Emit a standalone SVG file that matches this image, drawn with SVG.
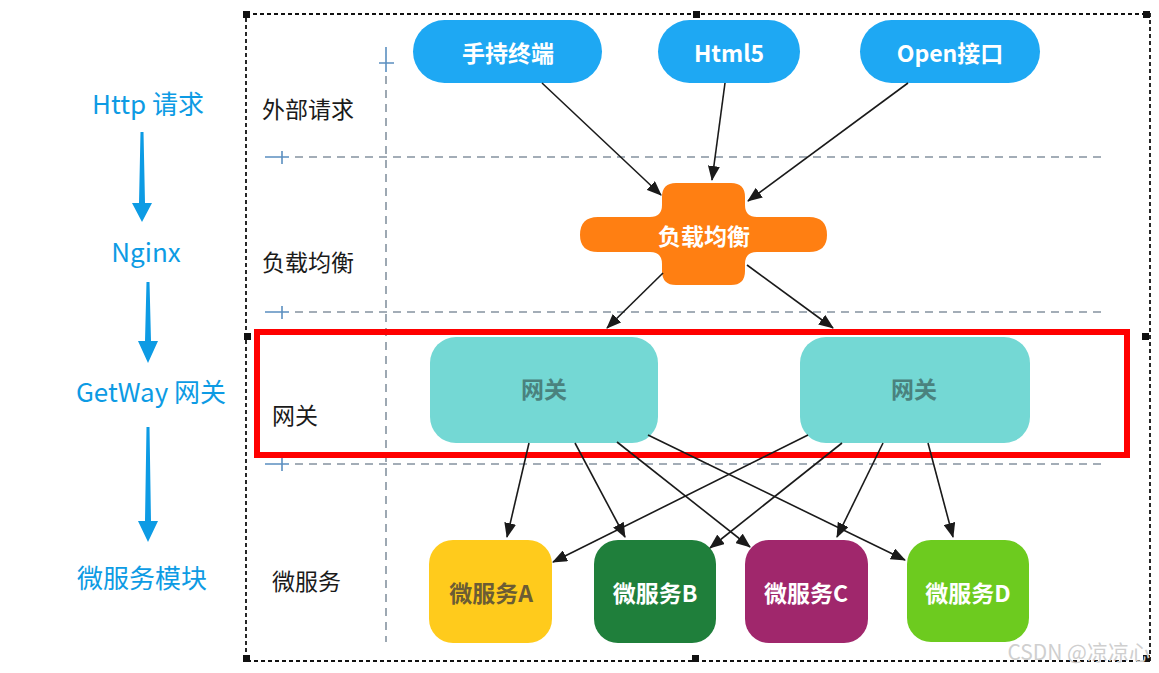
<svg xmlns="http://www.w3.org/2000/svg" width="1159" height="673" viewBox="0 0 1159 673">
<defs>
<marker id="ah" markerUnits="userSpaceOnUse" markerWidth="15" markerHeight="12" refX="14" refY="6" orient="auto">
<path d="M0,0 L15,6 L0,12 Z" fill="#1a1a1a"/>
</marker>
<style>
.lane{font-family:"Noto Sans CJK SC","Noto Sans",sans-serif;font-size:23px;font-weight:normal;fill:#1a1a1a;text-anchor:start}
.side{font-family:"Noto Sans CJK SC","Noto Sans",sans-serif;font-size:26px;fill:#0D9BE4;text-anchor:middle}
.nt{font-family:"Noto Sans CJK SC","Noto Sans",sans-serif;font-size:23px;font-weight:bold;fill:#fff;text-anchor:middle;dominant-baseline:central}
.dash{stroke:#8593a0;stroke-width:1.6;stroke-dasharray:8 6;fill:none}
.tick{stroke:#5b8fc0;stroke-width:1.6;fill:none}
.conn{stroke:#1a1a1a;stroke-width:1.6;fill:none;marker-end:url(#ah)}
.blue{fill:#0D9BE4}
.handle{fill:#111}
</style>
</defs>
<rect width="1159" height="673" fill="#fff"/>

<!-- left flow -->
<g id="side-flow">
<text class="side" x="148" y="114">Http 请求</text>
<polygon class="blue" points="140.5,132 143.5,132 145,203 152,203 142,222 132,203 139,203"/>
<text class="side" x="146" y="262">Nginx</text>
<polygon class="blue" points="146.5,282 149.5,282 151,341 158,341 148,363 138,341 145,341"/>
<text class="side" x="151" y="402">GetWay 网关</text>
<polygon class="blue" points="146.5,427 149.5,427 151,521 158,521 148,542 138,521 145,521"/>
<text class="side" x="142" y="588">微服务模块</text>
</g>

<!-- outer frame -->
<g id="frame">
<rect x="246" y="14" width="904" height="647" fill="none" stroke="#111" stroke-width="1.8" stroke-dasharray="4 3"/>
<rect class="handle" x="243" y="11" width="7" height="7"/>
<rect class="handle" x="693" y="11" width="7" height="7"/>
<rect class="handle" x="1143" y="11" width="7" height="7"/>
<rect class="handle" x="244" y="333" width="7" height="7"/>
<rect class="handle" x="1142" y="333" width="7" height="7"/>
<rect class="handle" x="243" y="655" width="7" height="7"/>
<rect class="handle" x="692" y="655" width="7" height="7"/>
<rect class="handle" x="1143" y="655" width="7" height="7"/>
</g>

<!-- swimlanes -->
<g id="lanes">
<path class="tick" d="M386,47 V72 M379,63 H394"/>
<line class="dash" x1="386" y1="76" x2="386" y2="642"/>
<path class="tick" d="M265,157 H289 M282,151 V164"/>
<line class="dash" x1="295" y1="157" x2="1105" y2="157"/>
<path class="tick" d="M265,312 H289 M282,306 V319"/>
<line class="dash" x1="295" y1="312" x2="1105" y2="312"/>
<path class="tick" d="M265,464 H289 M282,458 V471"/>
<line class="dash" x1="295" y1="464" x2="1105" y2="464"/>
<text class="lane" x="262" y="118">外部请求</text>
<text class="lane" x="262" y="271">负载均衡</text>
<text class="lane" x="272" y="424">网关</text>
<text class="lane" x="272" y="590">微服务</text>
</g>

<!-- nodes -->
<g id="node-mobile">
<rect x="413" y="20" width="189" height="63" rx="31.5" fill="#1EA8F3"/>
<text class="nt" x="508" y="52">手持终端</text>
</g>
<g id="node-html5">
<rect x="658" y="20" width="142" height="63" rx="31.5" fill="#1EA8F3"/>
<text class="nt" x="729" y="52">Html5</text>
</g>
<g id="node-open">
<rect x="860" y="20" width="180" height="63" rx="31.5" fill="#1EA8F3"/>
<text class="nt" x="950" y="52">Open接口</text>
</g>

<g id="node-lb">
<path fill="#FF7F12" d="M676,183 H731 Q745,183 745,197 V205 Q745,217 757,217 H809 Q827,217 827,235 Q827,252 809,252 H757 Q745,252 745,264 V271 Q745,285 731,285 H676 Q662,285 662,271 V264 Q662,252 650,252 H598 Q580,252 580,235 Q580,217 598,217 H650 Q662,217 662,205 V197 Q662,183 676,183 Z"/>
<text class="nt" x="704" y="235">负载均衡</text>
</g>

<g id="node-gw1">
<rect x="430" y="337" width="228" height="106" rx="26" fill="#74D8D4"/>
<text class="nt" x="544" y="388" style="fill:#4a827e">网关</text>
</g>
<g id="node-gw2">
<rect x="800" y="337" width="230" height="106" rx="26" fill="#74D8D4"/>
<text class="nt" x="914" y="388" style="fill:#4a827e">网关</text>
</g>

<g id="node-msA">
<rect x="429" y="540" width="123" height="103" rx="24" fill="#FFCB1C"/>
<text class="nt" x="491" y="592" style="fill:#6b5c34">微服务A</text>
</g>
<g id="node-msB">
<rect x="594" y="540" width="122" height="103" rx="24" fill="#1F7F3B"/>
<text class="nt" x="655" y="592">微服务B</text>
</g>
<g id="node-msC">
<rect x="745" y="540" width="123" height="103" rx="24" fill="#A0276C"/>
<text class="nt" x="806" y="592">微服务C</text>
</g>
<g id="node-msD">
<rect x="907" y="540" width="122" height="102" rx="24" fill="#6DCB1F"/>
<text class="nt" x="968" y="592">微服务D</text>
</g>

<!-- highlight -->
<rect id="highlight" x="257" y="332" width="870" height="123" fill="none" stroke="#FF0000" stroke-width="6"/>

<!-- connectors -->
<g id="connectors">
<line class="conn" x1="542" y1="83" x2="661" y2="195"/>
<line class="conn" x1="725" y1="83" x2="712" y2="180"/>
<line class="conn" x1="908" y1="83" x2="748" y2="201"/>
<line class="conn" x1="663" y1="273" x2="607" y2="328"/>
<line class="conn" x1="747" y1="265" x2="833" y2="328"/>
<line class="conn" x1="529" y1="443" x2="507" y2="537"/>
<line class="conn" x1="575" y1="443" x2="625" y2="537"/>
<line class="conn" x1="617" y1="442" x2="750" y2="547"/>
<line class="conn" x1="648" y1="435" x2="905" y2="560"/>
<line class="conn" x1="808" y1="435" x2="553" y2="562"/>
<line class="conn" x1="842" y1="443" x2="710" y2="548"/>
<line class="conn" x1="883" y1="443" x2="837" y2="537"/>
<line class="conn" x1="928" y1="443" x2="953" y2="537"/>
</g>

<text x="1150" y="660" text-anchor="end" font-family="'Noto Sans CJK SC','Liberation Sans',sans-serif" font-size="21" fill="#cfcfcf">CSDN @凉凉心</text>
</svg>
